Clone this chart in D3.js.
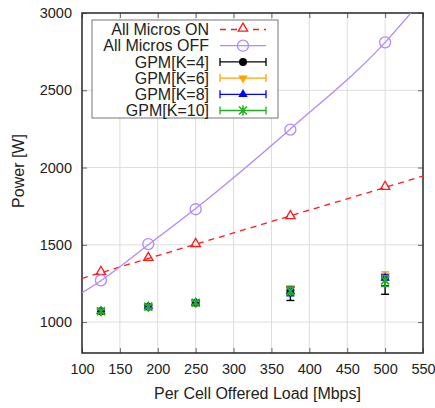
<!DOCTYPE html>
<html>
<head>
<meta charset="utf-8">
<script src="https://cdn.jsdelivr.net/npm/d3@7"></script>
<style>
  body { margin: 0; background: #fff; }
  text { font-family: "Liberation Sans", Arial, sans-serif; fill: #222; }
</style>
</head>
<body>
<div id="chart-area"></div>
<script>
// offered load per cell [Mbps]
var loads = [125, 187.5, 250, 375, 500];
var xTicks = [100, 150, 200, 250, 300, 350, 400, 450, 500, 550];
var yTicks = [1000, 1500, 2000, 2500, 3000];

var allOn = [1320, 1410, 1500, 1680, 1870];
var allOff = [1270, 1505, 1730, 2245, 2810];

// fitted curves
var onFitX = [100, 550];
var onFitY = [1283, 1945];
var offFitX = [100, 125, 187.5, 250, 375, 500, 534];
var offFitY = [1190, 1268, 1500, 1735, 2250, 2810, 3000];

var k4Mean = [1070, 1100, 1125, 1205, 1295];
var k4Low = [1060, 1090, 1110, 1140, 1180];
var k4High = [1080, 1110, 1140, 1230, 1310];
var k6Mean = [1070, 1100, 1130, 1215, 1300];
var k6Low = [1060, 1090, 1115, 1190, 1270];
var k6High = [1085, 1115, 1145, 1235, 1325];
var k8Mean = [1070, 1100, 1125, 1200, 1285];
var k8Low = [1060, 1090, 1110, 1170, 1235];
var k8High = [1080, 1110, 1140, 1225, 1305];
var k10Mean = [1070, 1100, 1125, 1200, 1270];
var k10Low = [1060, 1090, 1115, 1180, 1230];
var k10High = [1080, 1112, 1140, 1225, 1300];

var margin = { top: 13, right: 12, bottom: 55, left: 82 },
    width = 435 - margin.left - margin.right,
    height = 408 - margin.top - margin.bottom;

var svg = d3.select("#chart-area")
    .append("svg")
    .attr("width", 435)
    .attr("height", 408);

var g = svg.append("g")
    .attr("transform", "translate(" + margin.left + "," + margin.top + ")");

var x = d3.scaleLinear().domain([100, 550]).range([0, width]);
var y = d3.scaleLinear().domain([800, 3000]).range([height, 0]);

svg.append("defs").append("clipPath").attr("id", "clip")
    .append("rect").attr("width", width).attr("height", height);

// grid
g.selectAll(".vgrid").data(xTicks.slice(1, -1)).enter().append("line")
    .attr("x1", d => x(d)).attr("x2", d => x(d))
    .attr("y1", 0).attr("y2", height)
    .attr("stroke", "#ddd").attr("stroke-width", 1);
g.selectAll(".hgrid").data(yTicks.slice(0, -1)).enter().append("line")
    .attr("x1", 0).attr("x2", width)
    .attr("y1", d => y(d)).attr("y2", d => y(d))
    .attr("stroke", "#ddd").attr("stroke-width", 1);

// axes, ticks pointing inward
var xAxisCall = d3.axisBottom(x).tickValues(xTicks).tickSize(-5).tickPadding(11);
var yAxisCall = d3.axisLeft(y).tickValues(yTicks).tickSize(-5).tickPadding(10).tickFormat(d3.format("d"));

var xAxisGroup = g.append("g").attr("transform", "translate(0," + height + ")").call(xAxisCall);
var yAxisGroup = g.append("g").call(yAxisCall);
g.append("g").call(d3.axisTop(x).tickValues(xTicks).tickSize(-5).tickFormat(""));
g.append("g").attr("transform", "translate(" + width + ",0)")
    .call(d3.axisRight(y).tickValues(yTicks).tickSize(-5).tickFormat(""));

g.selectAll(".domain").remove();
g.selectAll(".tick line").attr("stroke", "#666");
xAxisGroup.selectAll("text").style("font-size", "14.5px").attr("fill", "#222");
yAxisGroup.selectAll("text").style("font-size", "14.5px").attr("fill", "#222");

g.append("rect")
    .attr("width", width).attr("height", height)
    .attr("fill", "none").attr("stroke", "#333").attr("stroke-width", 1.6);

// labels
g.append("text")
    .attr("x", width / 2 + 5)
    .attr("y", height + 46)
    .attr("text-anchor", "middle")
    .style("font-size", "16px")
    .text("Per Cell Offered Load [Mbps]");

g.append("text")
    .attr("x", -(height / 2) + 12)
    .attr("y", -58)
    .attr("text-anchor", "middle")
    .attr("transform", "rotate(-90)")
    .style("font-size", "16px")
    .text("Power [W]");

var plot = g.append("g").attr("clip-path", "url(#clip)");

var line = d3.line().x(d => x(d[0])).y(d => y(d[1]));
var curve = d3.line().x(d => x(d[0])).y(d => y(d[1])).curve(d3.curveMonotoneX);

plot.append("path")
    .datum(d3.zip(onFitX, onFitY))
    .attr("d", line)
    .attr("fill", "none").attr("stroke", "#ff1a1a").attr("stroke-width", 1.3)
    .attr("stroke-dasharray", "6,5");

plot.append("path")
    .datum(d3.zip(offFitX, offFitY))
    .attr("d", curve)
    .attr("fill", "none").attr("stroke", "#b388ff").attr("stroke-width", 1.3);

var tri = d3.symbol().type(d3.symbolTriangle);

function drawMarker(sel, kind, color) {
    if (kind === "triOpen") {
        sel.append("path").attr("d", tri.size(38)()).attr("transform", "translate(0,-1)")
            .attr("fill", "none").attr("stroke", color).attr("stroke-width", 1.3);
    } else if (kind === "circleOpen") {
        sel.append("circle").attr("r", 5.5)
            .attr("fill", "none").attr("stroke", color).attr("stroke-width", 1.3);
    } else if (kind === "circle") {
        sel.append("circle").attr("r", 4).attr("fill", color);
    } else if (kind === "triDown") {
        sel.append("path").attr("d", tri.size(38)()).attr("transform", "rotate(180)").attr("fill", color);
    } else if (kind === "triUp") {
        sel.append("path").attr("d", tri.size(38)()).attr("fill", color);
    } else if (kind === "star") {
        sel.append("path").attr("d", "M-4,-4L4,4M-4,4L4,-4M0,-5L0,5")
            .attr("stroke", color).attr("stroke-width", 1.6);
    }
}

function drawPoints(values, kind, color) {
    var pts = plot.selectAll(null)
        .data(d3.zip(loads, values))
        .enter().append("g")
        .attr("transform", d => "translate(" + x(d[0]) + "," + y(d[1]) + ")");
    pts.each(function() { drawMarker(d3.select(this), kind, color); });
}

function drawErrors(mean, low, high, kind, color) {
    var rows = loads.map((l, i) => ({ load: l, mean: mean[i], low: low[i], high: high[i] }));
    var e = plot.selectAll(null).data(rows).enter().append("g")
        .attr("stroke", color).attr("stroke-width", 1.4);
    e.append("line")
        .attr("x1", d => x(d.load)).attr("x2", d => x(d.load))
        .attr("y1", d => y(d.low)).attr("y2", d => y(d.high));
    e.append("line")
        .attr("x1", d => x(d.load) - 4).attr("x2", d => x(d.load) + 4)
        .attr("y1", d => y(d.low)).attr("y2", d => y(d.low));
    e.append("line")
        .attr("x1", d => x(d.load) - 4).attr("x2", d => x(d.load) + 4)
        .attr("y1", d => y(d.high)).attr("y2", d => y(d.high));
    drawPoints(mean, kind, color);
}

drawPoints(allOn, "triOpen", "#ff1a1a");
drawPoints(allOff, "circleOpen", "#b388ff");
drawErrors(k4Mean, k4Low, k4High, "circle", "#000");
drawErrors(k6Mean, k6Low, k6High, "triDown", "#ffa500");
drawErrors(k8Mean, k8Low, k8High, "triUp", "#0000ff");
drawErrors(k10Mean, k10Low, k10High, "star", "#1fb01f");

// legend
var legendItems = [
    { name: "All Micros ON", color: "#ff1a1a", kind: "triOpen", dash: "6,5", bars: false },
    { name: "All Micros OFF", color: "#b388ff", kind: "circleOpen", dash: null, bars: false },
    { name: "GPM[K=4]", color: "#000", kind: "circle", dash: null, bars: true },
    { name: "GPM[K=6]", color: "#ffa500", kind: "triDown", dash: null, bars: true },
    { name: "GPM[K=8]", color: "#0000ff", kind: "triUp", dash: null, bars: true },
    { name: "GPM[K=10]", color: "#1fb01f", kind: "star", dash: null, bars: true }
];

var legend = svg.append("g");
legend.append("rect")
    .attr("x", 92).attr("y", 20).attr("width", 186).attr("height", 98)
    .attr("fill", "#fff").attr("stroke", "#777").attr("stroke-width", 1);

var rows = legend.selectAll(".row").data(legendItems).enter().append("g")
    .attr("transform", (d, i) => "translate(0," + (29.5 + i * 16.2) + ")");

rows.append("text")
    .attr("x", 209).attr("dy", "0.35em")
    .attr("text-anchor", "end")
    .style("font-size", "16px")
    .attr("fill", "#111")
    .text(d => d.name);

rows.append("line")
    .attr("x1", 220).attr("x2", 266)
    .attr("stroke", d => d.color).attr("stroke-width", 1.3)
    .attr("stroke-dasharray", d => d.dash);

rows.filter(d => d.bars).each(function(d) {
    var r = d3.select(this);
    r.append("line").attr("x1", 220).attr("x2", 220).attr("y1", -4).attr("y2", 4)
        .attr("stroke", d.color).attr("stroke-width", 1.3);
    r.append("line").attr("x1", 266).attr("x2", 266).attr("y1", -4).attr("y2", 4)
        .attr("stroke", d.color).attr("stroke-width", 1.3);
});

rows.each(function(d) {
    var m = d3.select(this).append("g").attr("transform", "translate(243,0)");
    if (d.kind === "triOpen") m.append("rect").attr("x", -6).attr("y", -6).attr("width", 12).attr("height", 11).attr("fill", "#fff");
    drawMarker(m, d.kind, d.color);
});
</script>
</body>
</html>
